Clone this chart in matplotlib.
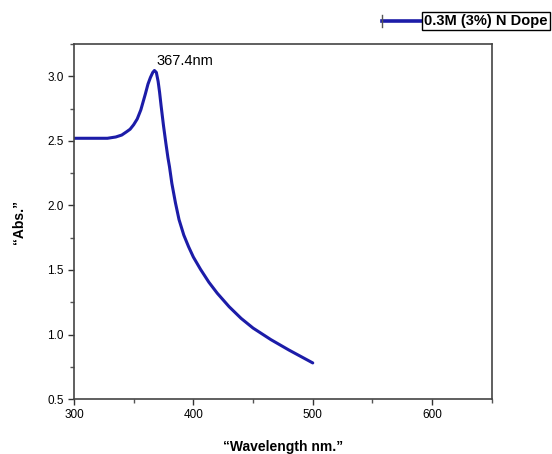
import matplotlib
matplotlib.use('Agg')
import matplotlib.pyplot as plt
from matplotlib.lines import Line2D
from matplotlib.ticker import MultipleLocator

plt.rcParams['font.family'] = ['Liberation Sans', 'DejaVu Sans']

# absorbance spectrum
wavelength = [300, 310, 320, 328, 335, 340, 344, 347, 350, 353, 356, 359.7, 362, 364,
              366, 367.4, 369, 370.5, 371.7, 373, 375, 377, 378.7, 380, 382, 385,
              388, 392, 396, 400, 406, 413, 420, 430, 440, 450, 465, 480, 490, 500]
absorbance = [2.52, 2.52, 2.52, 2.52, 2.53, 2.545, 2.57, 2.59, 2.625, 2.67, 2.74, 2.86, 2.94, 2.99,
              3.03, 3.045, 3.03, 2.96, 2.877, 2.77, 2.617, 2.48, 2.37, 2.30, 2.17, 2.02,
              1.89, 1.77, 1.68, 1.60, 1.505, 1.405, 1.32, 1.215, 1.125, 1.05, 0.96, 0.88, 0.83, 0.78]
peak_x, peak_y = 367.4, 3.045
series_name = '0.3M (3%) N Dope'

fig = plt.figure(figsize=(5.52, 4.54), dpi=100)
ax = fig.add_axes([0.134, 0.121, 0.757, 0.782])

ax.plot(wavelength, absorbance, color='#1c1ca8', lw=2.2, solid_capstyle='round',
        solid_joinstyle='round')
ax.annotate(f'{peak_x}nm', (peak_x, peak_y), xytext=(22, 2), textcoords='offset points',
            ha='center', va='bottom', fontsize=10.5)

ax.set_xlim(300, 650)
ax.set_ylim(0.5, 3.25)
ax.set_xticks([300, 400, 500, 600])
ax.set_yticks([0.5, 1.0, 1.5, 2.0, 2.5, 3.0])
ax.xaxis.set_minor_locator(MultipleLocator(50))
ax.yaxis.set_minor_locator(MultipleLocator(0.25))
ax.tick_params(which='major', direction='out', length=4, width=1, labelsize=8.5, colors='#333333',
               labelcolor='black')
ax.tick_params(which='minor', direction='out', length=3, width=1, colors='#555555')
for s in ax.spines.values():
    s.set_color('#444444')
    s.set_linewidth(1.2)

ax.set_xlabel('\u201cWavelength nm.\u201d', fontsize=10, fontweight='bold', labelpad=13)
ax.set_ylabel('\u201cAbs.\u201d', fontsize=10, fontweight='bold', labelpad=15)

# legend drawn like the original: handle outside the boxed label
fig.add_artist(Line2D([0.692, 0.762], [0.954, 0.954], color='#1c1ca8', lw=2.6))
fig.add_artist(Line2D([0.692, 0.692], [0.940, 0.968], color='#555555', lw=1))
fig.text(0.768, 0.954, series_name, fontsize=10.5, fontweight='bold', va='center', ha='left',
         bbox=dict(boxstyle='square,pad=0.15', fc='white', ec='black', lw=1))

fig.savefig('out.png', dpi=100)
